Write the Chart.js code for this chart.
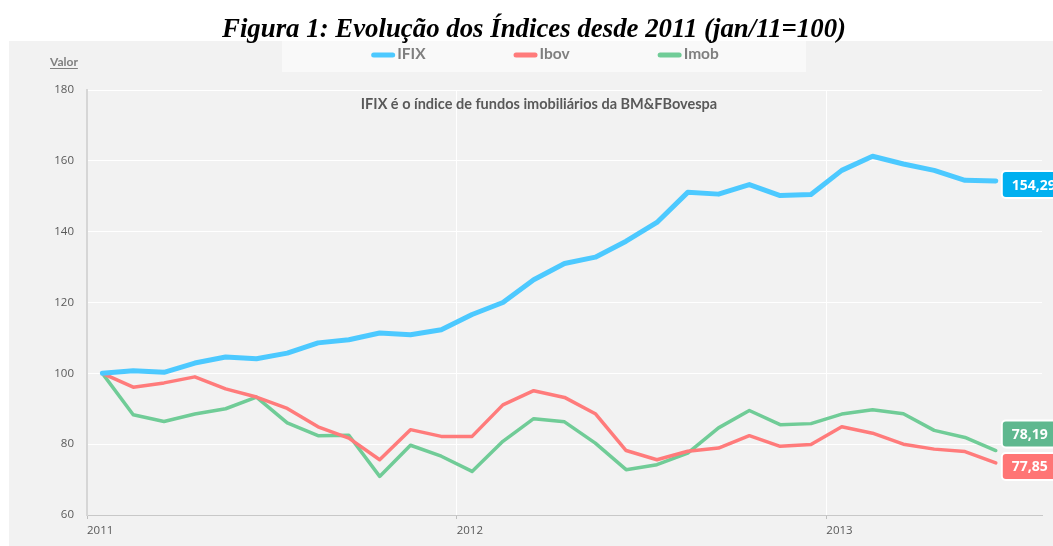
<!DOCTYPE html>
<html>
<head>
<meta charset="utf-8">
<script src="https://cdn.jsdelivr.net/npm/chart.js@4.4.1/dist/chart.umd.min.js"></script>
<style>
  html, body { margin: 0; padding: 0; background: #fff; }
  #wrap { width: 1053px; height: 546px; }
</style>
</head>
<body>
<div id="wrap"><canvas id="grafico"></canvas></div>
<script>
// --- dados (jan/11 = 100) ---
const meses = [
  'jan/11','fev/11','mar/11','abr/11','mai/11','jun/11','jul/11','ago/11','set/11','out/11','nov/11','dez/11',
  'jan/12','fev/12','mar/12','abr/12','mai/12','jun/12','jul/12','ago/12','set/12','out/12','nov/12','dez/12',
  'jan/13','fev/13','mar/13','abr/13','mai/13','jun/13'
];
const ifix = [100, 100.7, 100.3, 102.9, 104.6, 104.1, 105.7, 108.6, 109.5, 111.4, 110.9, 112.3,
  116.6, 120.0, 126.4, 131.0, 132.8, 137.3, 142.6, 151.1, 150.6, 153.3, 150.2, 150.5,
  157.3, 161.3, 159.1, 157.3, 154.5, 154.3];
const ibov = [100, 96.1, 97.3, 99.0, 95.6, 93.3, 90.1, 84.9, 81.7, 75.6, 84.1, 82.2,
  82.2, 91.1, 95.1, 93.2, 88.6, 78.2, 75.6, 78.0, 78.9, 82.4, 79.4, 79.9,
  84.9, 83.1, 80.0, 78.6, 77.9, 74.7];
const imob = [100, 88.3, 86.4, 88.5, 90.0, 93.3, 86.0, 82.4, 82.5, 70.9, 79.7, 76.6,
  72.3, 80.8, 87.2, 86.3, 80.3, 72.8, 74.2, 77.5, 84.6, 89.5, 85.5, 85.8,
  88.5, 89.7, 88.6, 83.9, 81.9, 78.2];
const series = ['IFIX', 'Ibov', 'Imob'];
const rotulosFinais = ['154,29', '77,85', '78,19'];
const yTicks = [60, 80, 100, 120, 140, 160, 180];

const TITULO = 'Figura 1: Evolução dos Índices desde 2011 (jan/11=100)';
const NOTA = 'IFIX é o índice de fundos imobiliários da BM&FBovespa';

// cores
const corLinha = ['#4cc9ff', '#ff7b7b', '#70cc97'];
const corCaixa = ['#00b0f0', '#ff7575', '#5fb88f'];
const espessura = [5, 3.5, 3.5];

// início de cada ano = fronteira entre dez e jan
const inicioAno = meses.map((m, i) => m.startsWith('jan') ? i - 0.5 : null).filter(v => v !== null);
const rotuloAno = v => {
  const i = Math.round(v + 0.5);
  return meses[i] ? '20' + meses[i].slice(4) : '';
};

const pontos = arr => arr.map((v, i) => ({ x: i, y: v }));

// --- plugin: fundo, título, legenda, nota e rótulos finais ---
const decoracao = {
  id: 'decoracao',
  beforeDraw(chart) {
    const c = chart.ctx;
    c.save();
    c.fillStyle = '#ffffff'; c.fillRect(0, 0, chart.width, chart.height);
    c.fillStyle = '#f2f2f2'; c.fillRect(9, 41, chart.width - 9, chart.height - 41);
    c.fillStyle = '#f9f9f9'; c.fillRect(282, 41, 524, 31);

    // título (condensado como no original)
    c.fillStyle = '#000';
    c.font = 'italic bold 28px "Liberation Serif"';
    c.textAlign = 'left'; c.textBaseline = 'alphabetic';
    const wt = c.measureText(TITULO).width;
    const alvo = 624;
    c.save();
    c.translate(534 - alvo / 2, 37);
    c.scale(alvo / wt, 1);
    c.fillText(TITULO, 0, 0);
    c.restore();

    // "Valor"
    c.font = 'bold 12px Lato';
    c.fillStyle = '#7f7f7f';
    c.textAlign = 'left';
    c.fillText('Valor', 50, 66);
    const wv = c.measureText('Valor').width;
    c.strokeStyle = '#7f7f7f'; c.lineWidth = 1;
    c.beginPath(); c.moveTo(50, 68.5); c.lineTo(50 + wv, 68.5); c.stroke();

    // legenda
    c.font = 'bold 15.5px Lato';
    c.textBaseline = 'middle';
    const amostra = 24, gap = 88;
    const larguras = chart.data.datasets.map(d => amostra + 2 + c.measureText(d.label).width);
    const total = larguras.reduce((a, b) => a + b, 0) + gap * (larguras.length - 1);
    let x = 545 - total / 2;
    chart.data.datasets.forEach((d, i) => {
      c.strokeStyle = d.borderColor; c.lineWidth = 5; c.lineCap = 'round';
      c.beginPath(); c.moveTo(x + 2.5, 55); c.lineTo(x + amostra - 2.5, 55); c.stroke();
      c.fillStyle = '#7f7f7f';
      c.fillText(d.label, x + amostra + 2, 54);
      x += larguras[i] + gap;
    });
    c.restore();
  },
  afterDraw(chart) {
    const c = chart.ctx;
    c.save();
    // nota
    c.font = 'bold 14.5px Lato';
    c.fillStyle = '#595959';
    c.textAlign = 'center'; c.textBaseline = 'middle';
    c.fillText(NOTA, 539, 104);

    // rótulos do último valor
    const h = 27, sep = 32.5;
    const itens = chart.data.datasets.map((d, i) => {
      const meta = chart.getDatasetMeta(i);
      const p = meta.data[meta.data.length - 1];
      return { i, x: p.x, y: p.y + 3.5 };
    }).sort((a, b) => b.y - a.y);
    for (let k = 1; k < itens.length; k++) {
      if (itens[k - 1].y - itens[k].y < sep) itens[k].y = itens[k - 1].y - sep;
    }
    c.font = 'bold 14px "Open Sans"';
    c.textAlign = 'left';
    itens.forEach(it => {
      const txt = rotulosFinais[it.i];
      const w = c.measureText(txt).width + 22;
      const bx = it.x + 6, by = it.y - h / 2;
      c.beginPath();
      c.roundRect(bx, by, w, h, 4);
      c.fillStyle = corCaixa[it.i]; c.fill();
      c.strokeStyle = '#ffffff'; c.lineWidth = 2; c.stroke();
      c.fillStyle = '#ffffff';
      c.fillText(txt, bx + 10, it.y + 1);
    });
    c.restore();
  }
};

const fonteEixo = { family: '"Open Sans", sans-serif', size: 11.5 };

new Chart(document.getElementById('grafico'), {
  type: 'line',
  data: {
    datasets: series.map((nome, i) => ({
      label: nome,
      data: pontos([ifix, ibov, imob][i]),
      borderColor: corLinha[i],
      backgroundColor: corLinha[i],
      borderWidth: espessura[i],
      pointRadius: 0,
      tension: 0,
      borderCapStyle: 'round',
      borderJoinStyle: 'round'
    }))
  },
  options: {
    responsive: true,
    maintainAspectRatio: false,
    animation: false,
    layout: { padding: { top: 90, right: 11, left: 0, bottom: 0 } },
    plugins: { legend: { display: false }, title: { display: false }, tooltip: { enabled: false } },
    scales: {
      x: {
        type: 'linear',
        min: -0.5,
        max: meses.length + 0.5,
        afterBuildTicks: s => { s.ticks = inicioAno.map(v => ({ value: v })); },
        afterFit: s => { s.height = 31; },
        grid: {
          color: ctx => (ctx.tick && ctx.tick.value > -0.5) ? '#ffffff' : 'rgba(0,0,0,0)',
          tickColor: '#bfbfbf', tickLength: 4, drawTicks: true
        },
        border: { color: '#c8c8c8', width: 1 },
        ticks: {
          align: 'start', padding: 5, color: '#595959', font: fonteEixo,
          maxRotation: 0, autoSkip: false, callback: v => rotuloAno(v)
        }
      },
      y: {
        min: yTicks[0],
        max: yTicks[yTicks.length - 1],
        afterBuildTicks: s => { s.ticks = yTicks.map(v => ({ value: v })); },
        afterFit: s => { s.width = 87; },
        grid: { color: '#ffffff', drawTicks: false },
        border: { color: '#d6d6d6', width: 2 },
        ticks: { padding: 13, color: '#595959', font: fonteEixo }
      }
    }
  },
  plugins: [decoracao]
});
</script>
</body>
</html>
